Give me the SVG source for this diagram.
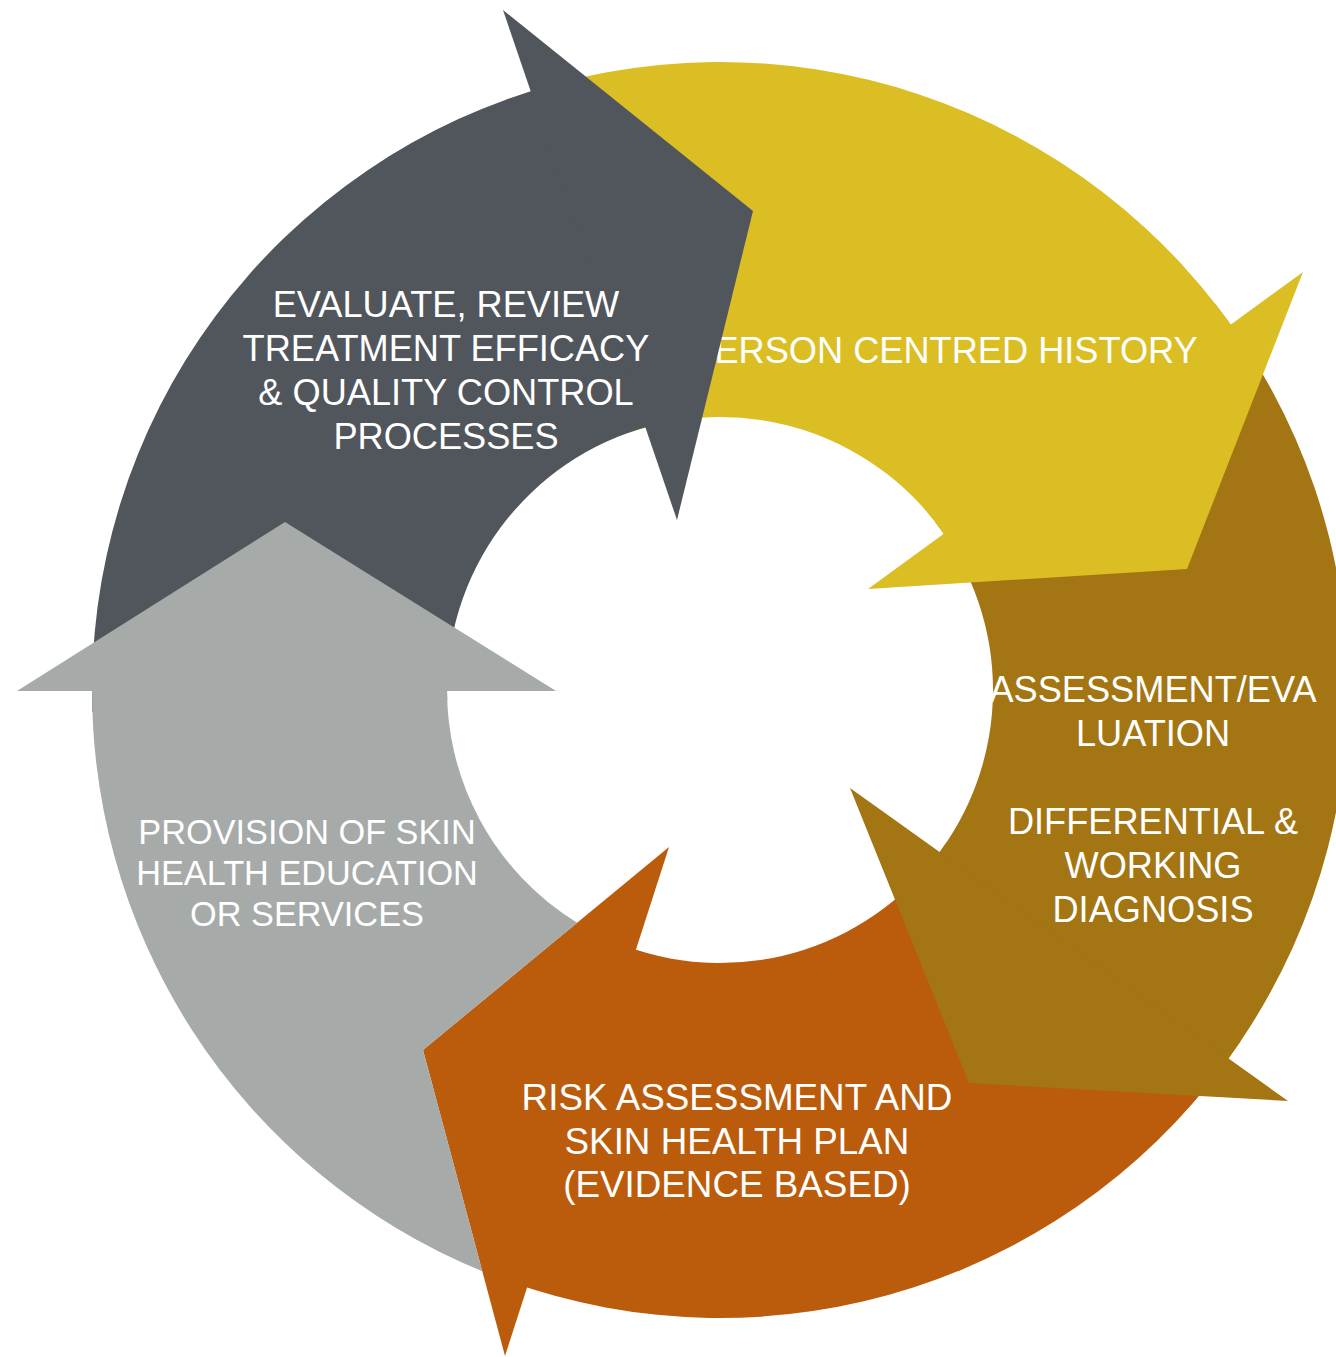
<svg xmlns="http://www.w3.org/2000/svg" width="1336" height="1357" viewBox="0 0 1336 1357">
  <style>
    .orange { fill: #bb5c0d; }
    .brown { fill: #a37513; }
    .yellow { fill: #dbbe24; }
    .dark { fill: #51565d; }
    .gray { fill: #a6aaa9; }
    .lbl { font-family: "Liberation Sans", Arial, Helvetica, sans-serif; font-size: 36.2px; fill: #ffffff; text-anchor: middle; }
    .lbl-o { font-size: 36.8px; }
    .lbl-s { font-size: 34.3px; }
  </style>
  <rect width="1336" height="1357" fill="#ffffff"/>

  <g id="node-risk">
    <path class="orange" d="M 1240.6,1041.2 A 628 628 0 0 1 505.2,1280.1 L 626.6,946.5 A 273 273 0 0 0 946.3,842.7 Z"/>
    <polygon class="orange" points="669,847 423,1050 505,1356"/>
    <text class="lbl lbl-o" x="737" y="1110">RISK ASSESSMENT AND</text>
    <text class="lbl lbl-o" x="737" y="1154">SKIN HEALTH PLAN</text>
    <text class="lbl lbl-o" x="737" y="1197">(EVIDENCE BASED)</text>
  </g>

  <g id="node-assessment">
    <path class="brown" d="M 1214.9,303.4 A 628 628 0 0 1 1211.5,1080.9 L 933.7,859.9 A 273 273 0 0 0 935.1,521.9 Z"/>
    <polygon class="brown" points="850,788 969,1083 1288,1101"/>
    <text class="lbl" x="1153" y="702">ASSESSMENT/EVA</text>
    <text class="lbl" x="1153" y="746">LUATION</text>
    <text class="lbl" x="1153" y="834">DIFFERENTIAL &amp;</text>
    <text class="lbl" x="1153" y="878">WORKING</text>
    <text class="lbl" x="1153" y="922">DIAGNOSIS</text>
  </g>

  <g id="node-history">
    <path class="yellow" d="M 505.2,99.9 A 628 628 0 0 1 1246.7,348.0 L 949.0,541.3 A 273 273 0 0 0 626.6,433.5 Z"/>
    <polygon class="yellow" points="1303,272 1187,569 868,589"/>
    <text class="lbl" x="944" y="363">PERSON CENTRED HISTORY</text>
  </g>

  <g id="node-evaluate">
    <path class="dark" d="M 92.4,711.9 A 628 628 0 0 1 557.5,83.4 L 649.3,426.3 A 273 273 0 0 0 447.2,699.5 Z"/>
    <polygon class="dark" points="503,10 753,211 677,520"/>
    <text class="lbl" x="446" y="317">EVALUATE, REVIEW</text>
    <text class="lbl" x="446" y="361">TREATMENT EFFICACY</text>
    <text class="lbl" x="446" y="405">&amp; QUALITY CONTROL</text>
    <text class="lbl" x="446" y="449">PROCESSES</text>
  </g>

  <g id="node-provision">
    <path class="gray" d="M 482.3,1271.3 A 628 628 0 0 1 92.4,668.1 L 447.2,680.5 A 273 273 0 0 0 577.2,922.7 L 423,1050 Z"/>
    <polygon class="gray" points="17,691 285,522 556,691"/>
    <text class="lbl lbl-s" x="307" y="844">PROVISION OF SKIN</text>
    <text class="lbl lbl-s" x="307" y="885">HEALTH EDUCATION</text>
    <text class="lbl lbl-s" x="307" y="926">OR SERVICES</text>
  </g>

  <g id="connectors"></g>
</svg>
